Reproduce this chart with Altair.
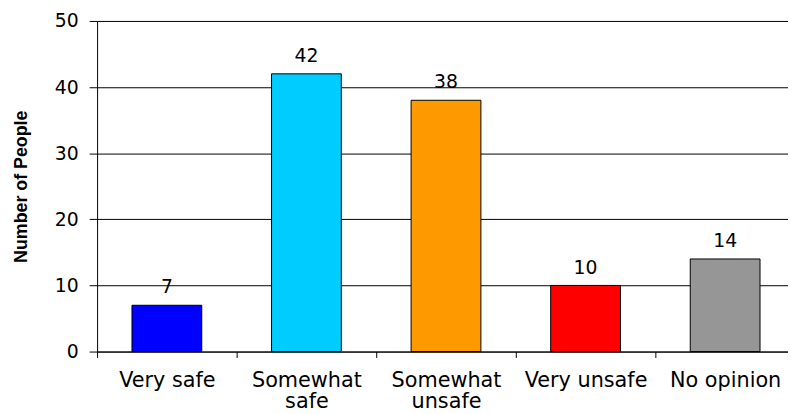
import altair as alt
import pandas as pd

categories = ["Very safe", "Somewhat safe", "Somewhat unsafe", "Very unsafe", "No opinion"]
counts = [7, 42, 38, 10, 14]
colors = ["#0000FF", "#00CCFF", "#FF9900", "#FF0000", "#969696"]
y_ticks = [0, 10, 20, 30, 40, 50]

df = pd.DataFrame({"category": categories, "count": counts})

x_enc = alt.X(
    "category:N",
    sort=categories,
    scale=alt.Scale(paddingInner=0.5, paddingOuter=0.2252, align=0.555),
    axis=alt.Axis(
        title=None,
        labelAngle=0,
        labelFont="DejaVu Sans",
        labelFontSize=21,
        labelColor="black",
        labelPadding=12,
        labelBaseline="top",
        labelLineHeight=22,
        labelLimit=0,
        labelOverlap=False,
        labelExpr="indexof(datum.label, 'Somewhat') == 0 ? split(datum.label, ' ') : datum.label",
        tickSize=6,
        tickColor="black",
        tickOffset=-70.5,
        labelOffset=70.5,
        domainColor="black",
        grid=False,
    ),
)

y_enc = alt.Y(
    "count:Q",
    scale=alt.Scale(domain=[0, 50]),
    axis=alt.Axis(
        values=y_ticks,
        title="Number of People",
        titleFont="Liberation Sans",
        titleFontSize=18,
        titleFontWeight="bold",
        titleColor="black",
        titlePadding=24,
        labelFont="DejaVu Sans",
        labelFontSize=19,
        labelColor="black",
        labelPadding=11,
        tickSize=8,
        tickColor="black",
        domainColor="black",
        gridColor="black",
        gridWidth=1,
    ),
)

bars = alt.Chart(df).mark_bar(stroke="black", strokeWidth=1).encode(
    x=x_enc,
    y=y_enc,
    color=alt.Color("category:N", scale=alt.Scale(domain=categories, range=colors), legend=None),
)

labels = alt.Chart(df).mark_text(
    baseline="alphabetic", dy=-12, font="DejaVu Sans", fontSize=19, color="black"
).encode(
    x=alt.X("category:N", sort=categories),
    y=alt.Y("count:Q"),
    text=alt.Text("count:Q"),
)

chart = (
    alt.layer(bars, labels)
    .properties(
        width=698,
        height=334,
        autosize=alt.AutoSizeParams(type="none"),
        padding={"left": 90, "top": 11, "right": 0, "bottom": 60},
        background="white",
    )
    .configure_view(stroke=None)
)

chart.save("out.html", embed_options={"renderer": "svg", "actions": False})
